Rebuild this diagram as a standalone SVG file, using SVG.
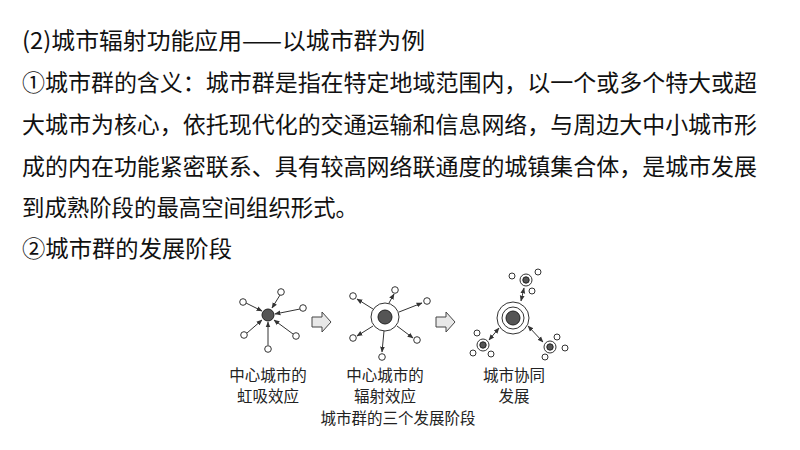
<svg xmlns="http://www.w3.org/2000/svg" width="800" height="450" viewBox="0 0 800 450">
<style>
.t{font-family:"Noto Sans CJK SC",sans-serif;font-size:23px;fill:#111}
.l{font-family:"Noto Sans CJK SC",sans-serif;font-size:15.5px;fill:#222;text-anchor:middle}
.s{fill:#fff;stroke:#333;stroke-width:1}
.d{fill:#555;stroke:#222;stroke-width:1}
.a{stroke:#333;stroke-width:1;fill:none;marker-end:url(#ah)}
.b{stroke:#333;stroke-width:1;fill:none;marker-end:url(#ah);marker-start:url(#ah)}
</style>
<defs><marker id="ah" viewBox="0 0 10 10" refX="9" refY="5" markerWidth="6" markerHeight="6" orient="auto-start-reverse"><path d="M0,1 L10,5 L0,9z" fill="#333"/></marker></defs>
<rect width="800" height="450" fill="#fff"/>
<text class="t" x="22" y="49" textLength="403" lengthAdjust="spacingAndGlyphs">(2)城市辐射功能应用——以城市群为例</text>
<text class="t" x="22" y="91" textLength="735" lengthAdjust="spacingAndGlyphs">①城市群的含义：城市群是指在特定地域范围内，以一个或多个特大或超</text>
<text class="t" x="22" y="133" textLength="735" lengthAdjust="spacingAndGlyphs">大城市为核心，依托现代化的交通运输和信息网络，与周边大中小城市形</text>
<text class="t" x="22" y="175" textLength="735" lengthAdjust="spacingAndGlyphs">成的内在功能紧密联系、具有较高网络联通度的城镇集合体，是城市发展</text>
<text class="t" x="22" y="216" textLength="336" lengthAdjust="spacingAndGlyphs">到成熟阶段的最高空间组织形式。</text>
<text class="t" x="22" y="257" textLength="210" lengthAdjust="spacingAndGlyphs">②城市群的发展阶段</text>
<g id="connectors">
<line class="a" x1="246" y1="303" x2="262" y2="311"/>
<line class="a" x1="280" y1="295" x2="272" y2="308"/>
<line class="a" x1="300" y1="309" x2="275" y2="314"/>
<line class="a" x1="247" y1="333" x2="262" y2="320"/>
<line class="a" x1="293" y1="334" x2="274" y2="320"/>
<line class="a" x1="268" y1="345" x2="268" y2="322"/>
<line class="a" x1="373" y1="309" x2="357" y2="299"/>
<line class="a" x1="389" y1="303" x2="394" y2="294"/>
<line class="a" x1="399" y1="312" x2="422" y2="303"/>
<line class="a" x1="373" y1="326" x2="357" y2="336"/>
<line class="a" x1="397" y1="326" x2="413" y2="338"/>
<line class="a" x1="384" y1="331" x2="382" y2="352"/>
<line class="b" x1="521" y1="301" x2="524" y2="288"/>
<line class="b" x1="499" y1="328" x2="489" y2="340"/>
<line class="b" x1="528" y1="326" x2="543" y2="342"/>
</g>
<g id="stage1">
<circle class="d" cx="268" cy="315" r="6"/>
<circle class="s" cx="243" cy="302" r="3.3"/><circle class="s" cx="281" cy="292" r="3.3"/><circle class="s" cx="303" cy="308" r="3.3"/>
<circle class="s" cx="244" cy="335" r="3.3"/><circle class="s" cx="296" cy="336" r="3.3"/><circle class="s" cx="268" cy="349" r="3.3"/>
<text class="l" x="268" y="381">中心城市的</text><text class="l" x="268" y="402">虹吸效应</text>
</g>
<g id="arrow1"><path d="M312,317 h10 v-5 l9,10 l-9,10 v-5 h-10z" fill="#e8e8e8" stroke="#444"/></g>
<g id="stage2">
<circle class="s" cx="385" cy="317" r="14" stroke-width="1.5"/><circle class="d" cx="385" cy="317" r="7"/>
<circle class="s" cx="353" cy="296" r="3.3"/><circle class="s" cx="395" cy="290" r="3.3"/><circle class="s" cx="427" cy="301" r="3.3"/>
<circle class="s" cx="353" cy="338" r="3.3"/><circle class="s" cx="417" cy="340" r="3.3"/><circle class="s" cx="382" cy="357" r="3.3"/>
<text class="l" x="385" y="381">中心城市的</text><text class="l" x="385" y="402">辐射效应</text>
</g>
<g id="arrow2"><path d="M436,317 h10 v-5 l9,10 l-9,10 v-5 h-10z" fill="#e8e8e8" stroke="#444"/></g>
<g id="stage3">
<circle class="s" cx="513" cy="318" r="16" stroke-width="1.5"/><circle class="s" cx="513" cy="318" r="11"/><circle class="d" cx="513" cy="318" r="7"/>
<circle class="s" cx="526" cy="280" r="6"/><circle class="d" cx="526" cy="280" r="3.2"/>
<circle class="s" cx="512" cy="276" r="3"/><circle class="s" cx="538" cy="272" r="3"/><circle class="s" cx="532" cy="291" r="3"/>
<circle class="s" cx="483" cy="345" r="6"/><circle class="d" cx="483" cy="345" r="3.2"/>
<circle class="s" cx="477" cy="333" r="3"/><circle class="s" cx="473" cy="353" r="3"/><circle class="s" cx="491" cy="354" r="3"/>
<circle class="s" cx="550" cy="347" r="6"/><circle class="d" cx="550" cy="347" r="3.2"/>
<circle class="s" cx="557" cy="337" r="3"/><circle class="s" cx="565" cy="348" r="3"/><circle class="s" cx="545" cy="357" r="3"/>
<text class="l" x="514" y="381">城市协同</text><text class="l" x="514" y="402">发展</text>
</g>
<text class="l" x="398" y="424">城市群的三个发展阶段</text>
</svg>
